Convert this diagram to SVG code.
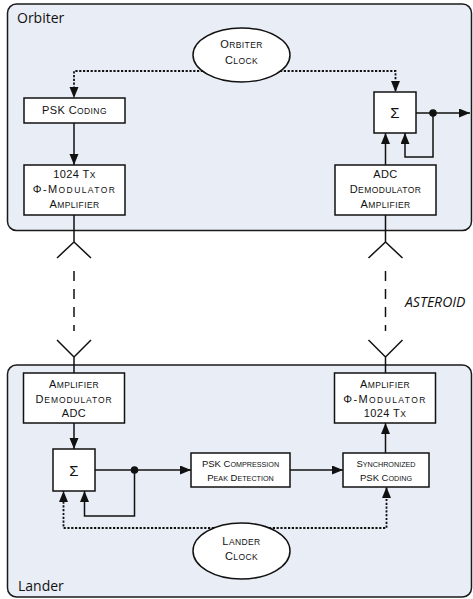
<svg xmlns="http://www.w3.org/2000/svg" width="473" height="599" viewBox="0 0 473 599">
<style>
.cont{fill:#e9edf5;stroke:#1a1a1a;stroke-width:1.5}
.box{fill:#fff;stroke:#111;stroke-width:1.5}
.clk{fill:#fff;stroke:#111;stroke-width:1.5}
.ln{fill:none;stroke:#111;stroke-width:1.5}
.dot{fill:none;stroke:#111;stroke-width:1.8;stroke-dasharray:2.2 1.6}
.dash{fill:none;stroke:#111;stroke-width:1.5;stroke-dasharray:10 8}
.t{font-family:"Liberation Sans",Arial,sans-serif;font-size:11px;text-anchor:middle;letter-spacing:0.4px;fill:#111}
.t2{font-family:"Liberation Sans",Arial,sans-serif;font-size:9.5px;text-anchor:middle;fill:#111}
.sig{font-family:"Liberation Sans",Arial,sans-serif;font-size:15px;text-anchor:middle;fill:#111}
.s{font-size:8.5px}
.s2{font-size:7.2px}
.lbl{font-family:"Open Sans","Liberation Sans",sans-serif;font-size:14px;fill:#111}
.ast{font-family:"Open Sans","Liberation Sans",sans-serif;font-size:14px;font-style:italic;fill:#111}
.jn{fill:#111}
</style>
<defs>
<marker id="ah" markerUnits="userSpaceOnUse" markerWidth="12" markerHeight="10" refX="11" refY="4.5" orient="auto">
<path d="M0,0 L11,4.5 L0,9 Z" fill="#111"/>
</marker>
</defs>

<g id="orbiter">
<rect class="cont" x="7.5" y="4" width="464" height="226.5" rx="9"/>
<text class="lbl" x="17" y="22.5">Orbiter</text>
</g>
<g id="lander">
<rect class="cont" x="7.5" y="365" width="464" height="232" rx="9"/>
<text class="lbl" x="18" y="591">Lander</text>
</g>
<text class="ast" x="405" y="307">ASTEROID</text>

<g id="connectors">
<path class="ln" d="M74,123 V165" marker-end="url(#ah)"/>
<path class="dot" d="M203,71 H74 V98" marker-end="url(#ah)"/>
<path class="dot" d="M280,71 H395.5 V92" marker-end="url(#ah)"/>
<path class="ln" d="M385.5,165 V133" marker-end="url(#ah)"/>
<path class="ln" d="M416,113 H470" marker-end="url(#ah)"/>
<path class="ln" d="M433,113 V157 H405 V133" marker-end="url(#ah)"/>
<circle class="jn" cx="433" cy="113" r="3.8"/>
<path class="ln" d="M74,215 V242 M57,258 L74,242 L91,258"/>
<path class="ln" d="M385.5,215 V242 M368.5,258 L385.5,242 L402.5,258"/>
<path class="dash" d="M74,271 V331"/>
<path class="dash" d="M385.5,271 V331"/>
<path class="ln" d="M57,340 L74,357 L91,340 M74,357 V373"/>
<path class="ln" d="M368.5,340 L385.5,357 L402.5,340 M385.5,357 V373"/>
<path class="ln" d="M74,423 V449" marker-end="url(#ah)"/>
<path class="ln" d="M95,470 H191" marker-end="url(#ah)"/>
<path class="ln" d="M134.5,470 V516 H84.5 V491" marker-end="url(#ah)"/>
<circle class="jn" cx="134.5" cy="470" r="3.8"/>
<path class="ln" d="M290,470 H343" marker-end="url(#ah)"/>
<path class="ln" d="M385.5,453 V423" marker-end="url(#ah)"/>
<path class="dot" d="M214,528 H63.5 V491" marker-end="url(#ah)"/>
<path class="dot" d="M269,528 H386.5 V487" marker-end="url(#ah)"/>
</g>

<g id="orbiter-clock">
<ellipse class="clk" cx="241.5" cy="55" rx="48.5" ry="27"/>
<text class="t" x="241.5" y="47.5">O<tspan class="s">RBITER</tspan></text>
<text class="t" x="241.5" y="63.5">C<tspan class="s">LOCK</tspan></text>
</g>
<g id="psk-coding">
<rect class="box" x="24" y="98" width="101" height="25"/>
<text class="t" x="74.5" y="114">PSK C<tspan class="s">ODING</tspan></text>
</g>
<g id="orbiter-sum">
<rect class="box" x="374" y="92" width="42" height="41"/>
<text class="sig" x="395" y="118">Σ</text>
</g>
<g id="orbiter-tx">
<rect class="box" x="24" y="165" width="101" height="50"/>
<text class="t" x="74.5" y="178">1024 T<tspan class="s">X</tspan></text>
<text class="t" x="74.5" y="193" style="letter-spacing:1.4px">Φ-M<tspan class="s">ODULATOR</tspan></text>
<text class="t" x="74.5" y="208">A<tspan class="s">MPLIFIER</tspan></text>
</g>
<g id="orbiter-adc">
<rect class="box" x="335" y="165" width="101" height="50"/>
<text class="t" x="385.5" y="178">ADC</text>
<text class="t" x="385.5" y="193">D<tspan class="s">EMODULATOR</tspan></text>
<text class="t" x="385.5" y="208">A<tspan class="s">MPLIFIER</tspan></text>
</g>

<g id="lander-adc">
<rect class="box" x="23.5" y="373" width="101" height="50"/>
<text class="t" x="74" y="388">A<tspan class="s">MPLIFIER</tspan></text>
<text class="t" x="74" y="402.5" style="letter-spacing:0.9px">D<tspan class="s">EMODULATOR</tspan></text>
<text class="t" x="74" y="417">ADC</text>
</g>
<g id="lander-tx">
<rect class="box" x="334.5" y="373" width="101" height="50"/>
<text class="t" x="385" y="388">A<tspan class="s">MPLIFIER</tspan></text>
<text class="t" x="385" y="402.5" style="letter-spacing:1.4px">Φ-M<tspan class="s">ODULATOR</tspan></text>
<text class="t" x="385" y="417">1024 T<tspan class="s">X</tspan></text>
</g>
<g id="lander-sum">
<rect class="box" x="53" y="449" width="42" height="42"/>
<text class="sig" x="74" y="475.5">Σ</text>
</g>
<g id="psk-compression">
<rect class="box" x="191" y="453" width="99" height="34"/>
<text class="t2" x="240.5" y="467">PSK C<tspan class="s2">OMPRESSION</tspan></text>
<text class="t2" x="240.5" y="480.5">P<tspan class="s2">EAK</tspan> D<tspan class="s2">ETECTION</tspan></text>
</g>
<g id="sync-psk">
<rect class="box" x="343" y="453" width="86" height="34"/>
<text class="t2" x="386" y="467">S<tspan class="s2">YNCHRONIZED</tspan></text>
<text class="t2" x="386" y="480.5">PSK C<tspan class="s2">ODING</tspan></text>
</g>
<g id="lander-clock">
<ellipse class="clk" cx="241.5" cy="551" rx="48.5" ry="28"/>
<text class="t" x="241.5" y="544.5">L<tspan class="s">ANDER</tspan></text>
<text class="t" x="241.5" y="560">C<tspan class="s">LOCK</tspan></text>
</g>
</svg>
